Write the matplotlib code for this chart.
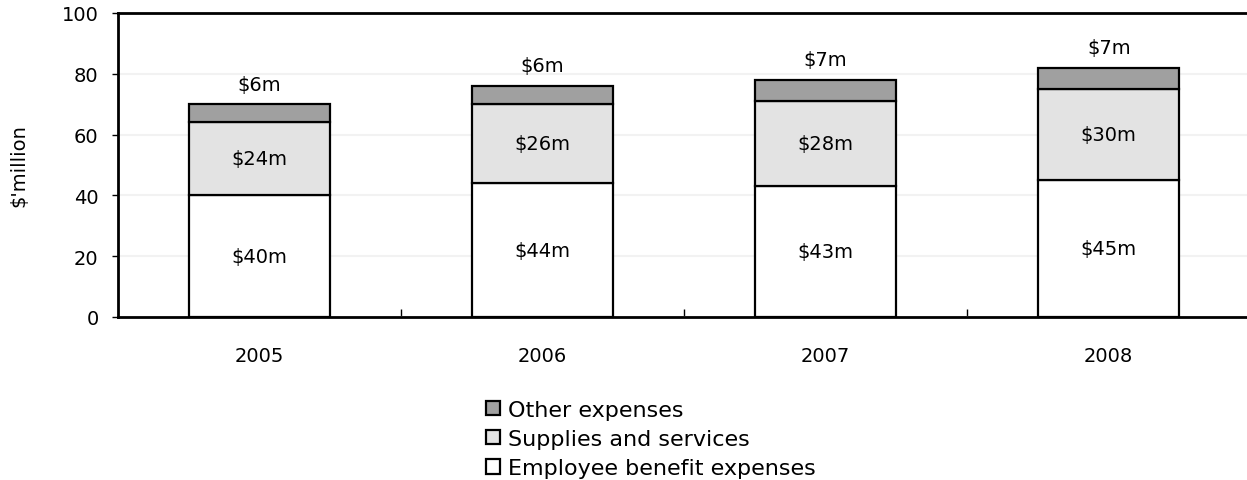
import matplotlib.pyplot as plt
import numpy as np

years = ["2005", "2006", "2007", "2008"]
employee = [40, 44, 43, 45]
supplies = [24, 26, 28, 30]
other = [6, 6, 7, 7]
series_names = ["Employee benefit expenses", "Supplies and services", "Other expenses"]
colors = ["#ffffff", "#e3e3e3", "#a0a0a0"]

plt.rcParams["font.family"] = ["DejaVu Sans"]

fig = plt.figure(figsize=(12.47, 4.81), dpi=100)
ax = fig.add_axes([0.0946, 0.339, 0.908, 0.632])

x = np.arange(len(years))
bottoms = np.zeros(len(years))
handles = []
for vals, name, col in zip([employee, supplies, other], series_names, colors):
    bars = ax.bar(x, vals, width=0.5, bottom=bottoms, color=col,
                  edgecolor="black", linewidth=1.6, label=name, zorder=3)
    handles.append(bars)
    bottoms = bottoms + np.array(vals)

# value labels
fs = 14
for i in range(len(years)):
    ax.text(x[i], employee[i] / 2, f"${employee[i]}m", ha="center", va="center", fontsize=fs, zorder=4)
    ax.text(x[i], employee[i] + supplies[i] / 2, f"${supplies[i]}m", ha="center", va="center", fontsize=fs, zorder=4)
    ax.text(x[i], bottoms[i] + 3.5, f"${other[i]}m", ha="center", va="bottom", fontsize=fs, zorder=4)

ax.set_xlim(-0.5, 3.5)
ax.set_ylim(0, 100)
ax.set_yticks([0, 20, 40, 60, 80, 100])
ax.tick_params(axis="y", labelsize=fs, length=4, width=1, direction="out", pad=10)
ax.set_xticks(x)
ax.set_xticklabels(years)
ax.tick_params(axis="x", labelsize=14, length=0, pad=21)
ax.set_xticks([0.5, 1.5, 2.5], minor=True)
ax.tick_params(axis="x", which="minor", length=6, width=1, direction="in")

ax.grid(axis="y", color="#f2f2f2", linewidth=1.5, zorder=0)
for s in ["top", "left", "bottom"]:
    ax.spines[s].set_linewidth(2)
ax.spines["right"].set_visible(False)

ax.set_ylabel("$'million", fontsize=fs, labelpad=24)

fig.legend(handles[::-1], series_names[::-1], loc="upper left", bbox_to_anchor=(0.381, 0.19),
           frameon=False, fontsize=16, handlelength=0.6, handleheight=0.6, handletextpad=0.4,
           labelspacing=0.42, borderpad=0)

fig.savefig("out.png", dpi=100)
